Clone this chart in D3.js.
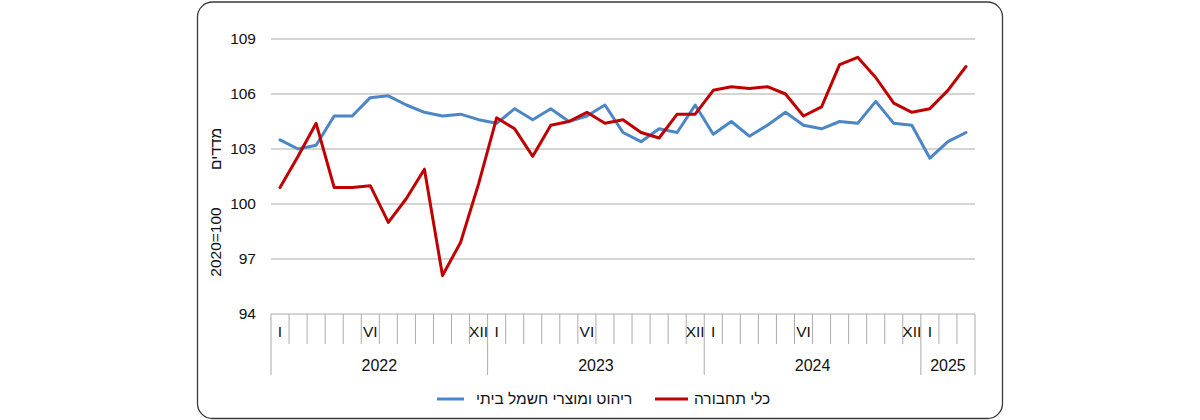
<!DOCTYPE html>
<html><head><meta charset="utf-8">
<script src="https://cdn.jsdelivr.net/npm/d3@7/dist/d3.min.js"></script>
<style>body{margin:0;background:#fff;}svg{display:block;font-family:"Liberation Sans",Arial,sans-serif;}</style>
</head><body><svg id="c" width="1200" height="420"></svg>
<script>
const years = ["2022","2023","2024","2025"];
const monthsPerYear = [12,12,12,3];
const romanLabels = {0:"I",5:"VI",11:"XII"};
const yTicks = [94,97,100,103,106,109];
const seriesNames = ["ריהוט ומוצרי חשמל ביתי","כלי תחבורה"];
const furniture = [103.5,103.0,103.2,104.8,104.8,105.8,105.9,105.4,105.0,104.8,104.9,104.6,
  104.4,105.2,104.6,105.2,104.5,104.8,105.4,103.9,103.4,104.1,103.9,105.4,
  103.8,104.5,103.7,104.3,105.0,104.3,104.1,104.5,104.4,105.6,104.4,104.3,
  102.5,103.4,103.9];
const vehicles = [100.9,102.6,104.4,100.9,100.9,101.0,99.0,100.3,101.9,96.1,97.9,101.1,
  104.7,104.1,102.6,104.3,104.5,105.0,104.4,104.6,103.9,103.6,104.9,104.9,
  106.2,106.4,106.3,106.4,106.0,104.8,105.3,107.6,108.0,106.9,105.5,105.0,
  105.2,106.2,107.5];

const cats = [];
years.forEach((y,yi)=>{ for(let m=0;m<monthsPerYear[yi];m++) cats.push({year:y,m:m,key:y+"-"+(m+1)}); });

const svg = d3.select("#c");
const L=271,R=975,T=39,B=314;
const x = d3.scaleBand().domain(cats.map(d=>d.key)).range([L,R]).padding(0);
const y = d3.scaleLinear().domain([94,109]).range([B,T]);
const grid="#ABABAB";

svg.append("rect").attr("x",197.5).attr("y",2).attr("width",805).attr("height",416.5)
  .attr("rx",15).attr("fill","none").attr("stroke","#3a3a3a").attr("stroke-width",1.3);

svg.append("g").selectAll("line").data(yTicks.filter(t=>t>94)).join("line")
  .attr("x1",L).attr("x2",R).attr("y1",d=>y(d)).attr("y2",d=>y(d))
  .attr("stroke",grid).attr("stroke-width",1.2);

svg.append("g").selectAll("text").data(yTicks).join("text")
  .attr("x",256).attr("y",d=>y(d)).attr("dy","0.35em").attr("text-anchor","end")
  .attr("font-size",15.5).attr("fill","#111").text(d=>d);

svg.append("text").attr("transform","translate(221,149) rotate(-90)").attr("text-anchor","middle")
  .attr("font-size",15.5).attr("fill","#111").text("מדדים");
svg.append("text").attr("transform","translate(221,242) rotate(-90)").attr("text-anchor","middle")
  .attr("font-size",15.5).attr("fill","#111").text("2020=100");

svg.append("line").attr("x1",L).attr("x2",R).attr("y1",B).attr("y2",B).attr("stroke",grid).attr("stroke-width",1.2);
const ax = svg.append("g");
cats.forEach((c,i)=>{
  const xl = x(c.key);
  const yearStart = c.m===0;
  ax.append("line").attr("x1",xl).attr("x2",xl).attr("y1",B).attr("y2",yearStart?375:344)
    .attr("stroke",grid).attr("stroke-width",1);
  if(romanLabels[c.m]!==undefined){
    ax.append("text").attr("x",xl+x.bandwidth()/2).attr("y",332).attr("dy","0.35em")
      .attr("text-anchor","middle").attr("font-size",15.5).attr("fill","#111").text(romanLabels[c.m]);
  }
});
ax.append("line").attr("x1",R).attr("x2",R).attr("y1",B).attr("y2",375).attr("stroke",grid).attr("stroke-width",1);
years.forEach((yr,yi)=>{
  const yc = cats.filter(c=>c.year===yr);
  const x0 = x(yc[0].key), x1 = x(yc[yc.length-1].key)+x.bandwidth();
  ax.append("text").attr("x",(x0+x1)/2).attr("y",365).attr("dy","0.35em")
    .attr("text-anchor","middle").attr("font-size",16).attr("fill","#111").text(yr);
});

const line = d3.line().x((d,i)=>x(cats[i].key)+x.bandwidth()/2).y(d=>y(d));
const colors = ["#4A86C8","#C00000"];
[furniture,vehicles].forEach((s,k)=>{
  svg.append("path").datum(s).attr("d",line).attr("fill","none")
    .attr("stroke",colors[k]).attr("stroke-width",3).attr("stroke-linejoin","round").attr("stroke-linecap","round");
});

const leg = svg.append("g");
leg.append("line").attr("x1",437).attr("x2",464).attr("y1",399).attr("y2",399).attr("stroke",colors[0]).attr("stroke-width",3);
leg.append("text").attr("x",476).attr("y",399).attr("dy","0.35em").attr("font-size",15.5).attr("fill","#111").text(seriesNames[0]);
leg.append("line").attr("x1",655).attr("x2",688).attr("y1",399).attr("y2",399).attr("stroke",colors[1]).attr("stroke-width",3);
leg.append("text").attr("x",694).attr("y",399).attr("dy","0.35em").attr("font-size",15.5).attr("fill","#111").text(seriesNames[1]);
</script></body></html>
